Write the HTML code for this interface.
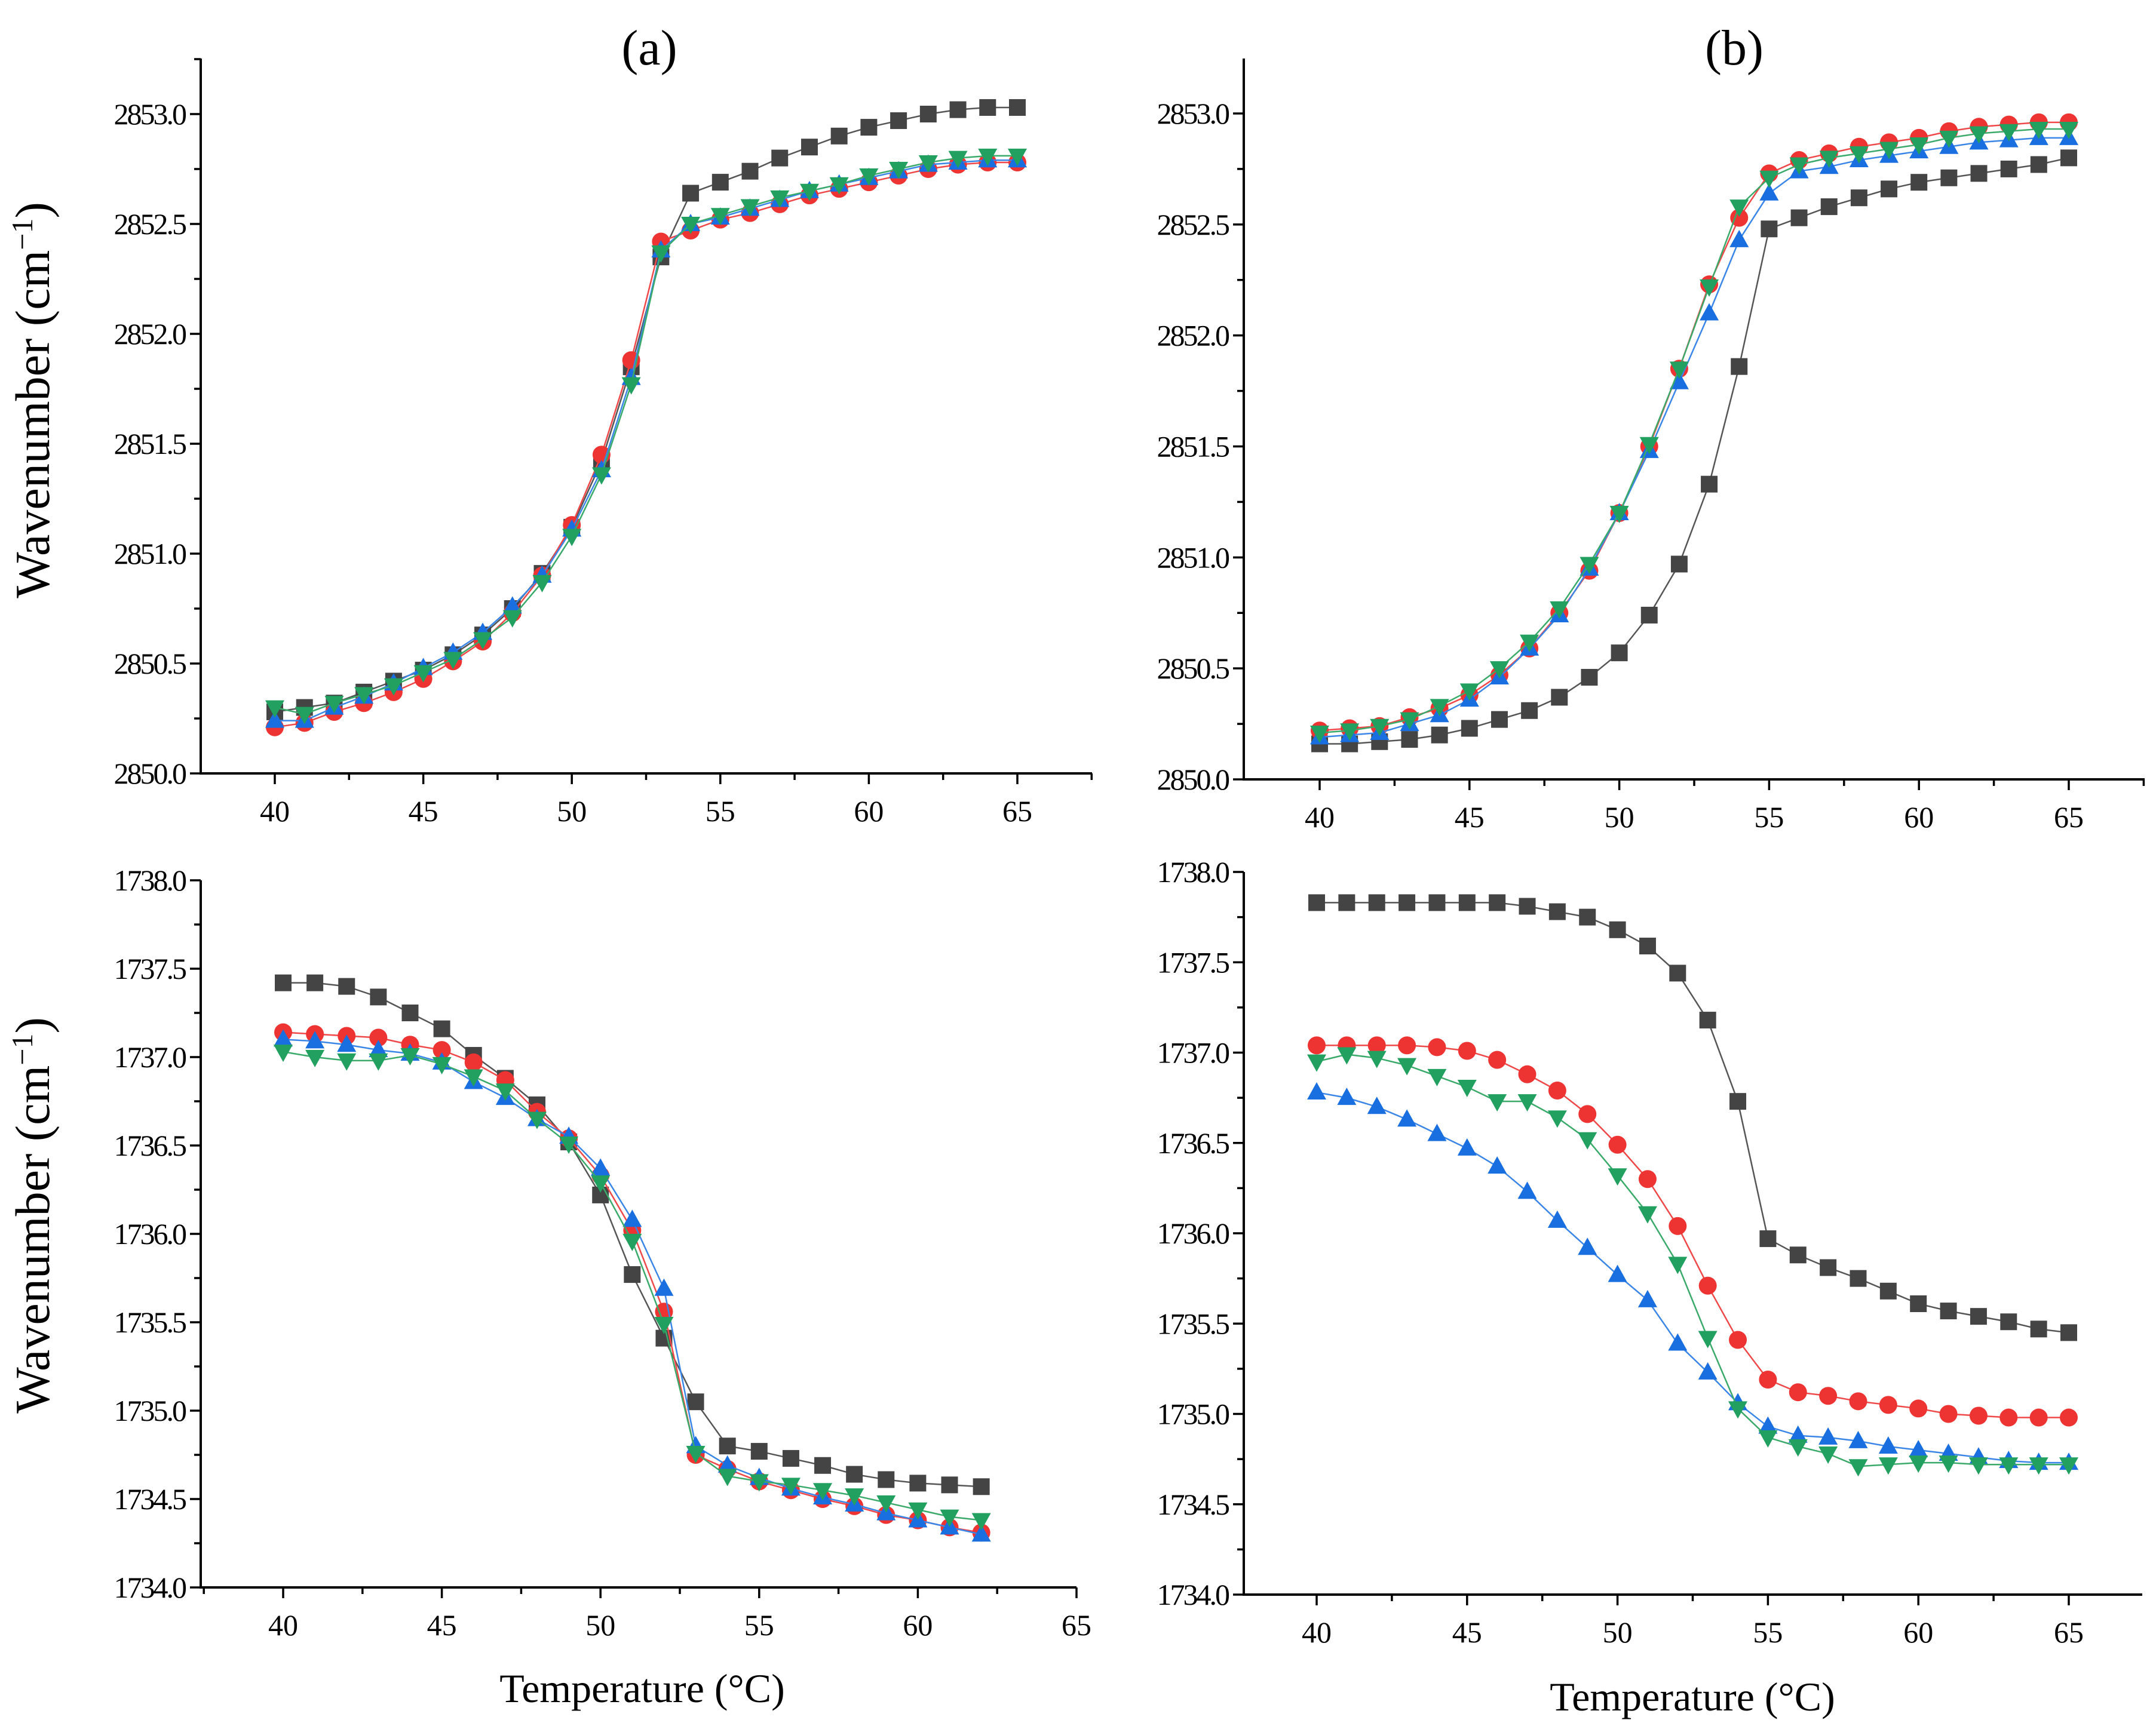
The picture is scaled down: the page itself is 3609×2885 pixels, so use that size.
<!DOCTYPE html>
<html><head><meta charset="utf-8"><style>
html,body{margin:0;padding:0;background:#fff;}
svg{display:block;font-family:"Liberation Serif",serif;}
</style></head><body>
<svg id="fig" width="3609" height="2885" viewBox="0 0 3609 2885" xmlns="http://www.w3.org/2000/svg">
<rect width="3609" height="2885" fill="#fff"/>
<text x="1087" y="108" font-size="84" text-anchor="middle">(a)</text>
<text x="2903" y="108" font-size="84" text-anchor="middle">(b)</text>
<text transform="translate(82,670) rotate(-90)" font-size="82" text-anchor="middle">Wavenumber (cm<tspan baseline-shift="super" font-size="50">−1</tspan>)</text>
<text transform="translate(82,2035) rotate(-90)" font-size="82" text-anchor="middle">Wavenumber (cm<tspan baseline-shift="super" font-size="50">−1</tspan>)</text>
<text x="1075" y="2850" font-size="68" text-anchor="middle">Temperature (°C)</text>
<text x="2833" y="2864" font-size="68" text-anchor="middle">Temperature (°C)</text>
</svg>
<script>
const tempsFull = [40,41,42,43,44,45,46,47,48,49,50,51,52,53,54,55,56,57,58,59,60,61,62,63,64,65];
const tempsC = [40,41,42,43,44,45,46,47,48,49,50,51,52,53,54,55,56,57,58,59,60,61,62];
const xTicks = [40,45,50,55,60,65];
const yTicksTop = [2850.0,2850.5,2851.0,2851.5,2852.0,2852.5,2853.0];
const yTicksBottom = [1734.0,1734.5,1735.0,1735.5,1736.0,1736.5,1737.0,1737.5,1738.0];

const aBlack = [2850.28,2850.30,2850.32,2850.37,2850.42,2850.47,2850.54,2850.63,2850.75,2850.91,2851.12,2851.42,2851.85,2852.35,2852.64,2852.69,2852.74,2852.80,2852.85,2852.90,2852.94,2852.97,2853.00,2853.02,2853.03,2853.03];
const aRed = [2850.21,2850.23,2850.28,2850.32,2850.37,2850.43,2850.51,2850.60,2850.73,2850.90,2851.13,2851.45,2851.88,2852.42,2852.47,2852.52,2852.55,2852.59,2852.63,2852.66,2852.69,2852.72,2852.75,2852.77,2852.78,2852.78];
const aBlue = [2850.24,2850.24,2850.30,2850.35,2850.41,2850.48,2850.55,2850.64,2850.76,2850.90,2851.11,2851.38,2851.80,2852.38,2852.50,2852.53,2852.57,2852.61,2852.65,2852.68,2852.71,2852.74,2852.77,2852.78,2852.79,2852.79];
const aGreen = [2850.30,2850.27,2850.32,2850.36,2850.40,2850.46,2850.52,2850.61,2850.71,2850.87,2851.08,2851.36,2851.77,2852.37,2852.50,2852.54,2852.58,2852.62,2852.65,2852.68,2852.72,2852.75,2852.78,2852.80,2852.81,2852.81];

const bBlack = [2850.16,2850.16,2850.17,2850.18,2850.20,2850.23,2850.27,2850.31,2850.37,2850.46,2850.57,2850.74,2850.97,2851.33,2851.86,2852.48,2852.53,2852.58,2852.62,2852.66,2852.69,2852.71,2852.73,2852.75,2852.77,2852.80];
const bRed = [2850.22,2850.23,2850.24,2850.28,2850.32,2850.38,2850.47,2850.59,2850.75,2850.94,2851.20,2851.50,2851.85,2852.23,2852.53,2852.73,2852.79,2852.82,2852.85,2852.87,2852.89,2852.92,2852.94,2852.95,2852.96,2852.96];
const bBlue = [2850.19,2850.20,2850.21,2850.25,2850.29,2850.36,2850.46,2850.59,2850.74,2850.95,2851.20,2851.48,2851.79,2852.10,2852.43,2852.64,2852.74,2852.76,2852.79,2852.81,2852.83,2852.85,2852.87,2852.88,2852.89,2852.89];
const bGreen = [2850.21,2850.22,2850.24,2850.27,2850.33,2850.40,2850.50,2850.62,2850.77,2850.97,2851.20,2851.51,2851.85,2852.22,2852.58,2852.71,2852.77,2852.80,2852.82,2852.84,2852.86,2852.89,2852.91,2852.92,2852.93,2852.93];

const cBlack = [1737.42,1737.42,1737.40,1737.34,1737.25,1737.16,1737.01,1736.88,1736.73,1736.52,1736.22,1735.77,1735.41,1735.05,1734.80,1734.77,1734.73,1734.69,1734.64,1734.61,1734.59,1734.58,1734.57];
const cRed = [1737.14,1737.13,1737.12,1737.11,1737.07,1737.04,1736.97,1736.87,1736.69,1736.54,1736.33,1736.02,1735.56,1734.75,1734.67,1734.60,1734.55,1734.50,1734.46,1734.41,1734.38,1734.34,1734.31];
const cBlue = [1737.10,1737.09,1737.07,1737.04,1737.02,1736.97,1736.86,1736.77,1736.65,1736.55,1736.37,1736.08,1735.69,1734.80,1734.69,1734.62,1734.56,1734.51,1734.47,1734.42,1734.38,1734.34,1734.30];
const cGreen = [1737.03,1737.00,1736.98,1736.98,1737.01,1736.96,1736.89,1736.81,1736.65,1736.51,1736.29,1735.96,1735.49,1734.76,1734.63,1734.60,1734.58,1734.55,1734.52,1734.48,1734.44,1734.40,1734.38];

const dBlack = [1737.83,1737.83,1737.83,1737.83,1737.83,1737.83,1737.83,1737.81,1737.78,1737.75,1737.68,1737.59,1737.44,1737.18,1736.73,1735.97,1735.88,1735.81,1735.75,1735.68,1735.61,1735.57,1735.54,1735.51,1735.47,1735.45];
const dRed = [1737.04,1737.04,1737.04,1737.04,1737.03,1737.01,1736.96,1736.88,1736.79,1736.66,1736.49,1736.30,1736.04,1735.71,1735.41,1735.19,1735.12,1735.10,1735.07,1735.05,1735.03,1735.00,1734.99,1734.98,1734.98,1734.98];
const dBlue = [1736.78,1736.75,1736.70,1736.63,1736.55,1736.47,1736.37,1736.23,1736.07,1735.92,1735.77,1735.63,1735.39,1735.23,1735.06,1734.93,1734.88,1734.87,1734.85,1734.82,1734.80,1734.78,1734.76,1734.74,1734.73,1734.73];
const dGreen = [1736.95,1736.99,1736.97,1736.93,1736.87,1736.81,1736.73,1736.73,1736.64,1736.52,1736.32,1736.11,1735.83,1735.42,1735.03,1734.87,1734.82,1734.78,1734.71,1734.72,1734.73,1734.73,1734.72,1734.72,1734.72,1734.72];

const NS = "http://www.w3.org/2000/svg";
const svg = document.getElementById('fig');
function mk(tag, attrs, parent){const e=document.createElementNS(NS,tag);for(const k in attrs)e.setAttribute(k,attrs[k]);(parent||svg).appendChild(e);return e;}

const COL = {black:['#444444','#555555'], red:['#ee3333','#f04848'], blue:['#1a6fe0','#3a86e8'], green:['#22a060','#3aaa6a']};

function panel(id, cfg, temps, series, yTicks){
  const g = mk('g',{});
  
  
  const pxPerX = (cfg.x65-cfg.x40)/25;
  const X = t => cfg.x40 + (t-40)*pxPerX;
  const pxPerY = (cfg.yLo-cfg.yHi)/(cfg.vHi-cfg.vLo);
  const Y = v => cfg.yLo - (v-cfg.vLo)*pxPerY;
  const ya = mk('line',{x1:cfg.axisX,y1:cfg.yLo,x2:cfg.axisX,y2:cfg.top,stroke:'#000','stroke-width':4},g);
  
  
  const xa = mk('line',{x1:cfg.axisX-2,y1:cfg.yLo,x2:cfg.right,y2:cfg.yLo,stroke:'#000','stroke-width':4},g);
  
  
  for(let t=37.5;t<=67.6;t+=2.5){
    const x=X(t); if(x<cfg.axisX+3||x>cfg.right+1) continue;
    const major = Math.abs(t%5)<0.01;
    mk('line',{x1:x,y1:cfg.yLo,x2:x,y2:cfg.yLo+(major?18:11),stroke:'#000','stroke-width':3.5},g);
  }
  xTicks.forEach(t=>{
    const tx = mk('text',{x:X(t),y:cfg.yLo+80,'font-size':50,'text-anchor':'middle'},g);
    
    
    tx.textContent = t;
  });
  for(let i=0;i<yTicks.length;i++){
    const v=yTicks[i];
    mk('line',{x1:cfg.axisX,y1:Y(v),x2:cfg.axisX-18,y2:Y(v),stroke:'#000','stroke-width':3.5},g);
    if(i<yTicks.length-1||Y(v+0.25)>cfg.top) mk('line',{x1:cfg.axisX,y1:Y(v+0.25),x2:cfg.axisX-11,y2:Y(v+0.25),stroke:'#000','stroke-width':3.5},g);
    const ty = mk('text',{x:cfg.axisX-26,y:Y(v)+17,'font-size':50,'text-anchor':'end','letter-spacing':-3},g);
    
    
    ty.textContent = v.toFixed(1);
  }
  series.forEach(([name,vals,shape])=>{
    const sg = mk('g',{},g);
    
    
    const pts = vals.map((v,i)=>[X(temps[i]),Y(v)]);
    mk('polyline',{points:pts.map(p=>p.join(',')).join(' '),fill:'none',stroke:COL[name][1],'stroke-width':2.5},sg);
    pts.forEach(([x,y])=>{
      let m; const c=COL[name][0];
      if(shape==='sq') m=mk('rect',{x:x-14,y:y-14,width:28,height:28,fill:c},sg);
      else if(shape==='ci') m=mk('circle',{cx:x,cy:y,r:15,fill:c},sg);
      else if(shape==='up') m=mk('polygon',{points:`${x},${y-17} ${x-16},${y+12} ${x+16},${y+12}`,fill:c},sg);
      else m=mk('polygon',{points:`${x},${y+17} ${x-16},${y-12} ${x+16},${y-12}`,fill:c},sg);
      
      
    });
  });
}

panel('a',{axisX:336,x40:460,x65:1703,yLo:1295,yHi:191,vLo:2850,vHi:2853,top:98,right:1828},tempsFull,
  [['black',aBlack,'sq'],['red',aRed,'ci'],['blue',aBlue,'up'],['green',aGreen,'dn']],yTicksTop);
panel('b',{axisX:2082,x40:2209,x65:3463,yLo:1305,yHi:190,vLo:2850,vHi:2853,top:98,right:3590},tempsFull,
  [['black',bBlack,'sq'],['red',bRed,'ci'],['blue',bBlue,'up'],['green',bGreen,'dn']],yTicksTop);
panel('c',{axisX:336,x40:474,x65:1802,yLo:2658,yHi:1474,vLo:1734,vHi:1738,top:1474,right:1802},tempsC,
  [['black',cBlack,'sq'],['red',cRed,'ci'],['blue',cBlue,'up'],['green',cGreen,'dn']],yTicksBottom);
panel('d',{axisX:2082,x40:2204,x65:3463,yLo:2670,yHi:1460,vLo:1734,vHi:1738,top:1460,right:3586},tempsFull,
  [['black',dBlack,'sq'],['red',dRed,'ci'],['blue',dBlue,'up'],['green',dGreen,'dn']],yTicksBottom);
</script>
</body></html>
